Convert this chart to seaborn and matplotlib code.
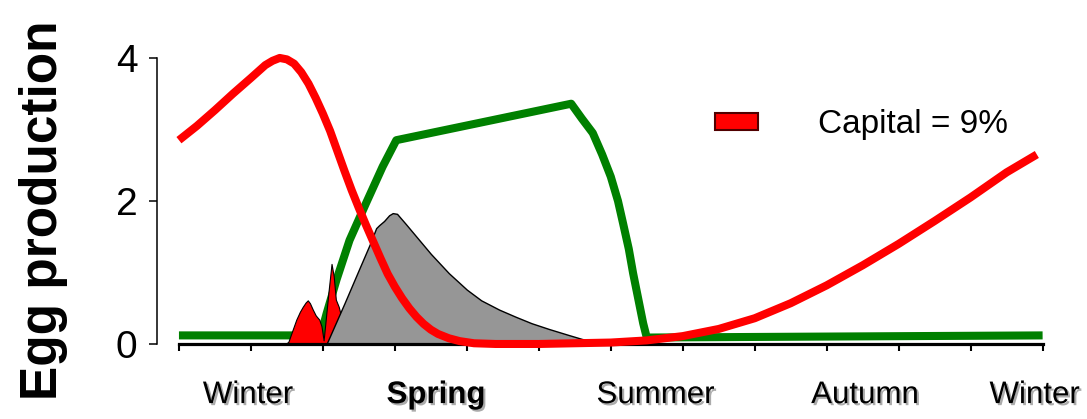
import matplotlib
matplotlib.use("Agg")
import matplotlib.pyplot as plt
import matplotlib.patches as mpatches
import matplotlib.patheffects as pe
import seaborn as sns

# months since start of winter (0..12)
red_month = [0.0, 0.25, 0.5, 0.75, 1.0, 1.1, 1.2, 1.3, 1.4, 1.5, 1.6, 1.7, 1.8, 1.9, 2.0,
             2.1, 2.2, 2.3, 2.4, 2.5, 2.6, 2.7, 2.8, 2.9, 3.0, 3.1, 3.2, 3.3, 3.4,
             3.5, 3.6, 3.75, 3.9, 4.1, 4.4, 5.0, 5.5, 6.0, 6.5, 7.0, 7.5, 8.0, 8.5,
             9.0, 9.5, 10.0, 10.5, 11.0, 11.5, 11.92]
red_value = [2.85, 3.05, 3.27, 3.50, 3.72, 3.81, 3.90, 3.96, 4.0, 3.98, 3.92, 3.80, 3.64, 3.44, 3.22,
             2.98, 2.70, 2.42, 2.15, 1.90, 1.66, 1.43, 1.20, 0.98, 0.80, 0.64, 0.50, 0.38, 0.28,
             0.20, 0.14, 0.08, 0.04, 0.01, 0.0, 0.0, 0.01, 0.02, 0.05, 0.11, 0.21, 0.36, 0.57,
             0.82, 1.10, 1.40, 1.72, 2.05, 2.40, 2.65]

green_month = [0.0, 1.97, 2.05, 2.19, 2.37, 2.6, 2.83, 3.02, 5.45, 5.6, 5.75, 5.88, 6.0,
               6.1, 6.17, 6.25, 6.31, 6.38, 6.45, 6.5, 12.0]
green_value = [0.12, 0.12, 0.42, 0.90, 1.45, 1.97, 2.48, 2.85, 3.36, 3.15, 2.95, 2.65, 2.34,
               2.0, 1.69, 1.33, 0.99, 0.64, 0.29, 0.09, 0.12]

gray_month = [2.05, 2.3, 2.5, 2.65, 2.74, 2.78, 2.85, 2.92, 2.97, 3.03, 3.15, 3.3, 3.5,
              3.75, 4.0, 4.2, 4.45, 4.68, 4.9, 5.14, 5.4, 5.6, 5.83, 6.0]
gray_value = [0.0, 0.57, 1.04, 1.39, 1.62, 1.66, 1.72, 1.80, 1.83, 1.82, 1.68, 1.50, 1.26,
              0.99, 0.76, 0.61, 0.48, 0.38, 0.29, 0.21, 0.13, 0.07, 0.02, 0.0]

spike_month = [1.48, 1.52, 1.58, 1.63, 1.68, 1.72, 1.76, 1.79, 1.82, 1.86, 1.9, 1.95, 1.98,
               2.01, 2.04, 2.08, 2.12, 2.15, 2.18, 2.22, 2.25, 2.28]
spike_value = [0.0, 0.03, 0.2, 0.34, 0.45, 0.52, 0.58, 0.61, 0.57, 0.48, 0.40, 0.34, 0.25,
               0.05, 0.35, 0.75, 1.12, 0.95, 0.62, 0.52, 0.40, 0.0]

months = list(range(13))
season_pos = [0.96, 3.57, 6.62, 9.53, 11.89]
season_labels = ["Winter", "Spring", "Summer", "Autumn", "Winter"]
y_ticks = [0, 2, 4]

sns.set_style("ticks")
plt.rcParams['font.family'] = ['Liberation Sans', 'DejaVu Sans']
plt.rcParams['text.color'] = 'black'
plt.rcParams['xtick.color'] = 'black'
plt.rcParams['ytick.color'] = 'black'
plt.rcParams['axes.labelcolor'] = 'black'

W, H = 1087, 419
fig = plt.figure(figsize=(W / 100, H / 100), dpi=100)
# axes placed so that month 0 sits at x=179px, y=0 at 344px, y=4 at 58px
ax = fig.add_axes([157 / W, (H - 354.7) / H, 900 / W, 318.2 / H])
ax.set_xlim(-0.305, 12.2)
ax.set_ylim(-0.15, 4.3)

sns.lineplot(x=green_month, y=green_value, ax=ax, color="#008000", lw=5.8,
             sort=False, estimator=None, solid_capstyle="butt", solid_joinstyle="round", zorder=2)
ax.fill_between(gray_month, gray_value, 0, facecolor="#969696", edgecolor="black",
                lw=1.0, zorder=2.2)
ax.fill_between(spike_month, spike_value, 0, facecolor="#ff0000", edgecolor="black",
                lw=0.8, zorder=2.1)
sns.lineplot(x=red_month, y=red_value, ax=ax, color="#ff0000", lw=5.8,
             sort=False, estimator=None, solid_capstyle="butt", solid_joinstyle="round", zorder=3)

for s in ["top", "right"]:
    ax.spines[s].set_visible(False)
ax.spines["bottom"].set_position(("data", 0))
ax.spines["bottom"].set_bounds(0, 12)
ax.spines["bottom"].set_linewidth(2.3)
ax.spines["left"].set_bounds(0, 4)
ax.spines["left"].set_linewidth(1.1)
ax.spines["left"].set_color("black")
ax.spines["bottom"].set_color("black")

ax.set_yticks(y_ticks)
ax.set_yticklabels([str(v) for v in y_ticks], fontsize=28)
ax.tick_params(axis="y", length=6, width=1.1, pad=8, color="black", labelcolor="black")

ax.set_xticks(months)
ax.set_xticklabels([])
ax.tick_params(axis="x", which="major", length=5, width=1.5, direction="out", color="black")
ax.set_xticks(season_pos, season_labels, minor=True)
ax.tick_params(axis="x", which="minor", length=0, pad=26, labelsize=22.5, labelcolor="black")
shadow = [pe.SimplePatchShadow(offset=(1.5, -1.5), shadow_rgbFace="0.45", alpha=0.6), pe.Normal()]
for i, lab in enumerate(ax.get_xticklabels(minor=True)):
    lab.set_path_effects(shadow)
    if season_labels[i] == "Spring":
        lab.set_fontweight("bold")

ax.set_xlabel("")
ax.set_ylabel("")
fig.text(44 / W, 1 - 210 / H, "Egg production", rotation=90, ha="center", va="center",
         fontsize=37, fontweight="bold", color="black")

handle = mpatches.Patch(facecolor="#ff0000", edgecolor="#500000", lw=1.5, label="Capital = 9%")
leg = ax.legend(handles=[handle], loc="center left", bbox_to_anchor=(715 / W, 1 - 125 / H),
                bbox_transform=fig.transFigure, frameon=False, fontsize=24,
                handlelength=1.3, handleheight=0.42, handletextpad=1.8,
                borderpad=0, borderaxespad=0)
for t in leg.get_texts():
    t.set_color("black")

fig.savefig("out.png", dpi=100)
